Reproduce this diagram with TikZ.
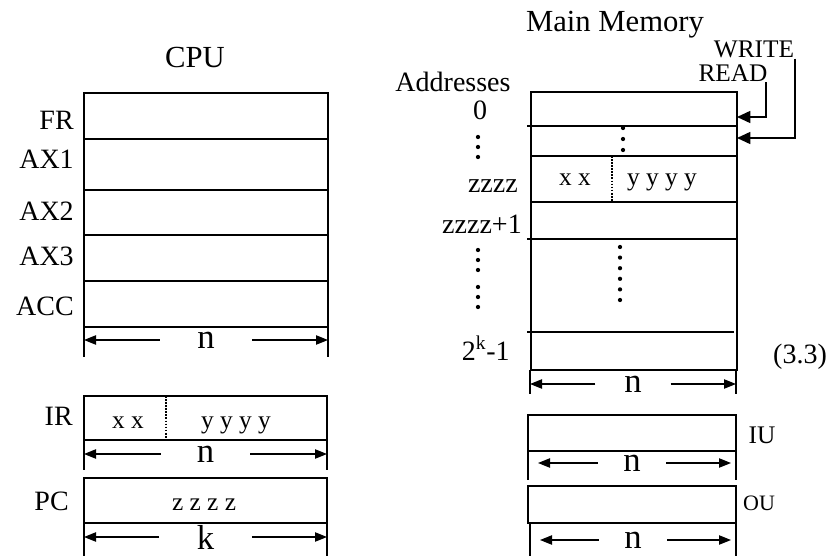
\documentclass[tikz,border=0pt]{standalone}
\usepackage{fontspec}
\setmainfont{Liberation Serif}
\usetikzlibrary{arrows.meta}

\begin{document}
\begin{tikzpicture}[x=0.75pt, y=-0.75pt, every node/.style={inner sep=0pt},
  box/.style={line width=1.2pt},
  tick/.style={line width=0.8pt},
  dimline/.style={line width=0.9pt, -{Triangle[length=9pt,width=7pt]}},
  ctl/.style={line width=1.2pt, -{Triangle[length=10pt,width=9pt]}},
  ttl/.style={font=\fontsize{23}{26}\selectfont},
  lbl/.style={font=\fontsize{21}{24}\selectfont},
  fld/.style={font=\fontsize{19}{22}\selectfont},
  dimlbl/.style={font=\fontsize{26}{28}\selectfont}]
  \useasboundingbox (0,0) rectangle (830,556);

  \begin{scope}
    \node[ttl, anchor=base] (cpu) at (195,68) {CPU};
    \coordinate (c0) at (84,93);
    \coordinate (c1) at (328,327);
    \draw[box] (c0) rectangle (c1);
    \foreach \y in {139,190,235,281}
      \draw[box] (84,\y) -- (328,\y);
    \foreach \lab/\y in {FR/130,AX1/168,AX2/220,AX3/265,ACC/315}
      \node[lbl, anchor=base east] (r\lab) at (74,\y) {\lab};

    \draw[box] (84,396) rectangle (327,440);
    \draw[densely dotted, line width=1.3pt] (166,396) -- (166,440);
    \node[lbl, anchor=base east] (ir) at (73,425) {IR};
    \node[fld, anchor=base] (irop) at (128,428) {x x};
    \node[fld, anchor=base] (iradr) at (236,428) {y y y y};

    \draw[box] (84,478) rectangle (327,523);
    \node[lbl, anchor=base east] (pc) at (69,510) {PC};
    \node[fld, anchor=base] (pcval) at (204,510) {z z z z};
  \end{scope}

  \begin{scope}
    \node[ttl, anchor=base] (mm) at (615,32) {Main Memory};
    \node[fld, anchor=base] (wr) at (754,58) {WRITE};
    \node[fld, anchor=base] (rd) at (733,82) {READ};
    \coordinate (m0) at (531,92);
    \coordinate (m1) at (737,370);
    \coordinate (mr1) at (737,117);
    \coordinate (mr2) at (737,138);
    \draw[box] (m0) rectangle (m1);
    \draw[box] (527,126) -- (737,126);
    \draw[box] (531,156) -- (737,156);
    \draw[box] (531,202) -- (737,202);
    \draw[box] (527,239) -- (737,239);
    \draw[box] (527,332) -- (734,332);
    \draw[densely dotted, line width=1.3pt] (612,156) -- (612,202);
    \node[fld, anchor=base] (mop) at (575,185) {x x};
    \node[fld, anchor=base] (madr) at (662,185) {y y y y};
    \draw[ctl] ([xshift=-1.5pt]rd.south east) |- (mr1);
    \draw[ctl] ([xshift=0.5pt]wr.south east) |- (mr2);

    \node[lbl, anchor=base] (adr) at (453,92) {Addresses};
    \node[lbl, anchor=base] (a0) at (480,120) {0};
    \node[lbl, anchor=base east] (az) at (518,192) {zzzz};
    \node[lbl, anchor=base east] (az1) at (522,233) {zzzz+1};
    \node[lbl, anchor=base east] (ak) at (510,360) {2\textsuperscript{k}-1};
    \node[lbl, anchor=base] (eq) at (800,363) {(3.3)};
    \foreach \y in {137,147,157,250,260,270,287,297,307}
      \fill (478,\y) circle (1.6pt);
    \foreach \y in {128,139,150}
      \fill (623,\y) circle (1.6pt);
    \foreach \i in {0,...,5}
      \fill (620,{247+10.6*\i}) circle (1.6pt);

    \draw[box] (528,415) rectangle (736,451);
    \node[fld, anchor=base] (iu) at (762,443) {IU};
    \draw[box] (528,486) rectangle (736,523);
    \node[font=\fontsize{16.5}{18}\selectfont, anchor=base] (ou) at (759,510) {OU};
  \end{scope}

  \foreach \nm/\xa/\xb/\pa/\pb/\y/\ta/\tb/\w/\lab in
    {dreg/84/328/84/328/340/327/357/69pt/n, dir/84/327/84/327/454/440/470/67pt/n,
     dpc/84/327/84/327/537/523/556/69pt/k, dmem/530/736/530/736/384/370/394/56pt/n,
     diu/528/736/538/731/463/451/480/51pt/n, dou/530/736/540/731/540/523/556/51pt/n}
  {
    \draw[tick] (\xa,\ta) -- (\xa,\tb) (\xb,\ta) -- (\xb,\tb);
    \node[dimlbl, minimum width=\w] (\nm) at ({(\xa+\xb)/2},\y) {\lab};
    \draw[dimline] (\nm.west) -- (\pa,\y);
    \draw[dimline] (\nm.east) -- (\pb,\y);
  }
\end{tikzpicture}
\end{document}
